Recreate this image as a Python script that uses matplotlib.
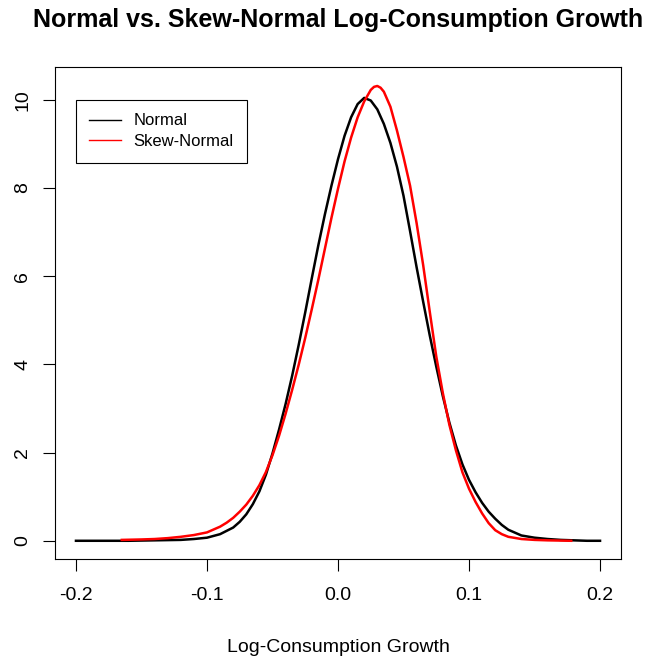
import matplotlib
matplotlib.use("Agg")
import matplotlib.pyplot as plt

plt.rcParams["font.family"] = ["Liberation Sans", "DejaVu Sans"]

# density estimates
x_normal = [-0.200, -0.180, -0.160, -0.140, -0.120, -0.110, -0.100, -0.090, -0.080, -0.075,
            -0.070, -0.065, -0.060, -0.055, -0.050, -0.045, -0.040, -0.035, -0.030, -0.025,
            -0.020, -0.015, -0.010, -0.005, 0.000, 0.005, 0.010, 0.015, 0.020, 0.025,
            0.030, 0.035, 0.040, 0.045, 0.050, 0.055, 0.060, 0.065, 0.070, 0.075,
            0.080, 0.085, 0.090, 0.095, 0.100, 0.105, 0.110, 0.115, 0.120, 0.125,
            0.130, 0.140, 0.150, 0.160, 0.170, 0.180, 0.190, 0.200]
y_normal = [0.00, 0.00, 0.00, 0.01, 0.02, 0.04, 0.07, 0.15, 0.30, 0.43,
            0.60, 0.83, 1.12, 1.50, 1.98, 2.52, 3.10, 3.74, 4.44, 5.18,
            5.95, 6.70, 7.40, 8.05, 8.65, 9.18, 9.60, 9.90, 10.04, 9.98,
            9.78, 9.45, 9.02, 8.48, 7.82, 7.02, 6.20, 5.42, 4.66, 3.95,
            3.28, 2.68, 2.16, 1.73, 1.38, 1.10, 0.86, 0.66, 0.50, 0.36,
            0.25, 0.12, 0.07, 0.04, 0.02, 0.01, 0.00, 0.00]

x_skew = [-0.165, -0.150, -0.140, -0.130, -0.120, -0.110, -0.100, -0.090, -0.085, -0.080,
          -0.075, -0.070, -0.065, -0.060, -0.055, -0.050, -0.045, -0.040, -0.035, -0.030,
          -0.025, -0.020, -0.015, -0.010, -0.005, 0.000, 0.005, 0.010, 0.015, 0.020,
          0.025, 0.0275, 0.030, 0.0325, 0.035, 0.040, 0.045, 0.050, 0.055, 0.060,
          0.065, 0.070, 0.075, 0.080, 0.085, 0.090, 0.095, 0.100, 0.105, 0.110,
          0.115, 0.120, 0.125, 0.130, 0.140, 0.150, 0.160, 0.178]
y_skew = [0.02, 0.03, 0.04, 0.06, 0.09, 0.13, 0.19, 0.32, 0.41, 0.52,
          0.66, 0.82, 1.02, 1.26, 1.56, 1.94, 2.38, 2.88, 3.42, 3.99,
          4.60, 5.25, 5.92, 6.62, 7.32, 7.98, 8.60, 9.14, 9.60, 9.96,
          10.22, 10.29, 10.31, 10.27, 10.18, 9.84, 9.30, 8.70, 8.05, 7.20,
          6.25, 5.20, 4.18, 3.35, 2.63, 2.05, 1.55, 1.18, 0.88, 0.62,
          0.40, 0.24, 0.15, 0.09, 0.04, 0.02, 0.01, 0.00]

x_ticks = [-0.2, -0.1, 0.0, 0.1, 0.2]
x_tick_labels = ["-0.2", "-0.1", "0.0", "0.1", "0.2"]
y_ticks = [0, 2, 4, 6, 8, 10]

fig = plt.figure(figsize=(6.47, 6.63), dpi=100)
ax = fig.add_axes([55 / 647, 1 - 559 / 663, 566 / 647, 492 / 663])

ax.plot(x_normal, y_normal, color="black", linewidth=1.8, label="Normal")
ax.plot(x_skew, y_skew, color="red", linewidth=1.8, label="Skew-Normal")

ax.set_xlim(-0.216, 0.216)
ax.set_ylim(-0.413, 10.74)
ax.set_xticks(x_ticks)
ax.set_xticklabels(x_tick_labels)
ax.set_yticks(y_ticks)
ax.set_yticklabels([str(v) for v in y_ticks], rotation=90, va="center")
ax.tick_params(direction="out", length=8.6, width=0.8, labelsize=14, colors="black")
ax.tick_params(axis="x", pad=11.5)
ax.tick_params(axis="y", pad=8.6)

for s in ax.spines.values():
    s.set_linewidth(0.8)

ax.set_xlabel("Log-Consumption Growth", fontsize=14, va="center")
ax.xaxis.set_label_coords(0.5, -(647 - 559) / 492)
fig.text(338 / 647, 1 - 20 / 663, "Normal vs. Skew-Normal Log-Consumption Growth",
         ha="center", va="center", fontsize=18, fontweight="bold")

leg = ax.legend(loc="upper left", bbox_to_anchor=(21 / 566, 1 - 33 / 492),
                borderaxespad=0, fancybox=False, edgecolor="black", framealpha=1,
                fontsize=12, handlelength=1.9, handletextpad=0.75, borderpad=0.8,
                labelspacing=0.35)
leg.get_frame().set_linewidth(0.8)
for line in leg.get_lines():
    line.set_linewidth(1.0)

fig.savefig("out.png", dpi=100)
